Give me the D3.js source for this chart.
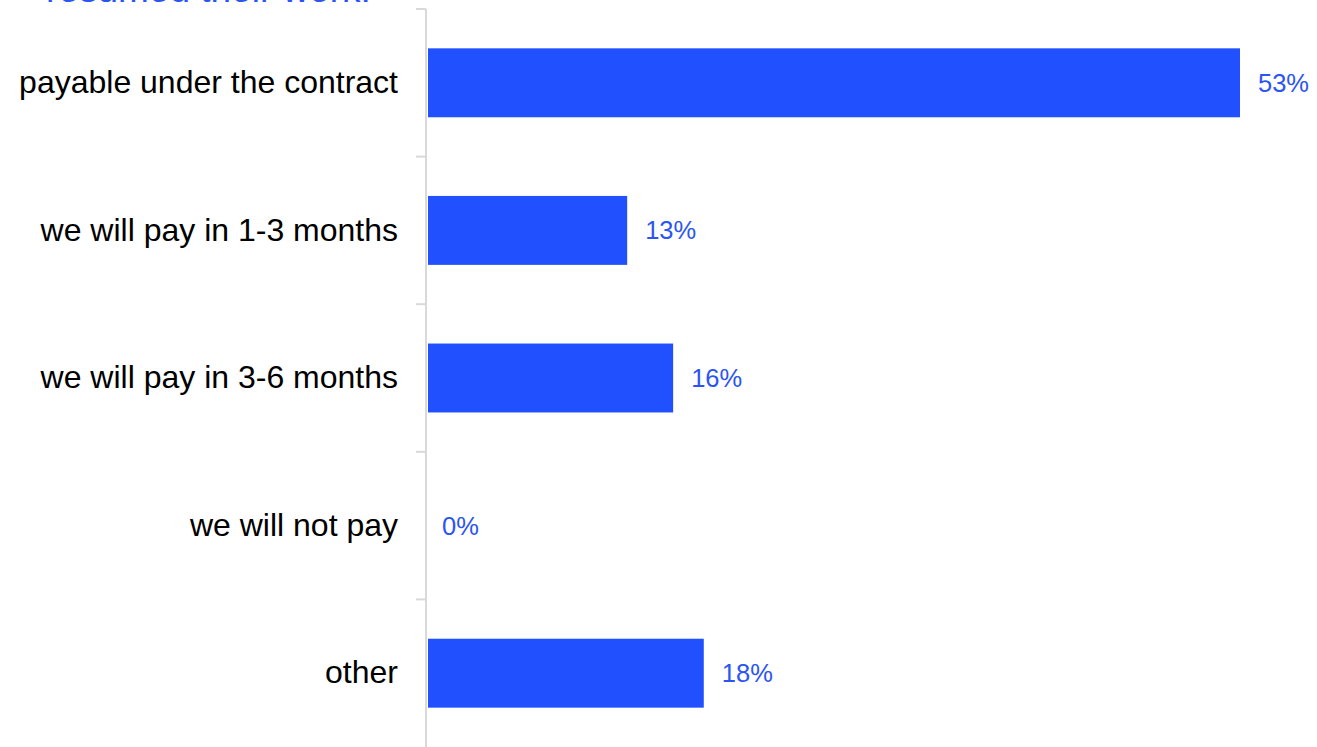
<!DOCTYPE html>
<html>
<head>
<meta charset="utf-8">
<script src="https://cdn.jsdelivr.net/npm/d3@7"></script>
<style>
  html, body { margin: 0; padding: 0; background: #ffffff; overflow: hidden; }
  svg { display: block; font-family: "Liberation Sans", Arial, sans-serif; }
</style>
</head>
<body>
<svg id="chart" width="1317" height="747"></svg>
<script>
// Survey answers: when will the debt be paid once work has resumed
const categories = [
  "payable under the contract",
  "we will pay in 1-3 months",
  "we will pay in 3-6 months",
  "we will not pay",
  "other"
];
const shares = [53, 13, 16, 0, 18];
const titleLines = ["resumed their work."];

const W = 1317, H = 747;
const barColor = "#2150ff";
const labelColor = "#2b55f2";
const axisColor = "#d9d9d9";

const svg = d3.select("#chart");

const y = d3.scaleBand()
  .domain(categories)
  .range([9, H])
  .paddingInner(0.533)
  .paddingOuter(0.2665);

const x = d3.scaleLinear()
  .domain([0, d3.max(shares)])
  .range([428, 1240]);

// title (its first lines sit above the visible area)
svg.append("g")
  .selectAll("text")
  .data(titleLines)
  .join("text")
  .attr("x", 46)
  .attr("y", (d, i) => 2 + i * 42)
  .attr("fill", labelColor)
  .attr("font-size", 37)
  .text(d => d);

// category axis: line along the left of the bars, ticks between bands
const axisX = 426;
svg.append("line")
  .attr("x1", axisX).attr("x2", axisX)
  .attr("y1", y.range()[0]).attr("y2", y.range()[1])
  .attr("stroke", axisColor).attr("stroke-width", 2);

const half = (y.step() - y.bandwidth()) / 2;
const bounds = categories.map(c => y(c) - half);
svg.append("g")
  .selectAll("line")
  .data(bounds)
  .join("line")
  .attr("x1", axisX - 10).attr("x2", axisX)
  .attr("y1", d => d).attr("y2", d => d)
  .attr("stroke", axisColor).attr("stroke-width", 2);

const yAxis = d3.axisLeft(y).tickSize(0).tickPadding(28);
const gy = svg.append("g")
  .attr("transform", `translate(${axisX},0)`)
  .call(yAxis);
gy.select(".domain").remove();
gy.selectAll("text")
  .attr("font-family", "'Liberation Sans', Arial, sans-serif")
  .attr("font-size", 32)
  .attr("fill", "#000000");

const rows = categories.map((c, i) => ({ cat: c, v: shares[i] }));

// bars
svg.append("g")
  .selectAll("rect")
  .data(rows)
  .join("rect")
  .attr("x", x(0))
  .attr("y", d => y(d.cat))
  .attr("width", d => x(d.v) - x(0))
  .attr("height", y.bandwidth())
  .attr("fill", barColor);

// value labels
svg.append("g")
  .selectAll("text")
  .data(rows)
  .join("text")
  .attr("x", d => x(d.v) + (d.v === 0 ? 14 : 18))
  .attr("y", d => y(d.cat) + y.bandwidth() / 2)
  .attr("dy", "0.35em")
  .attr("fill", labelColor)
  .attr("font-size", 25.5)
  .text(d => d.v + "%");
</script>
</body>
</html>
